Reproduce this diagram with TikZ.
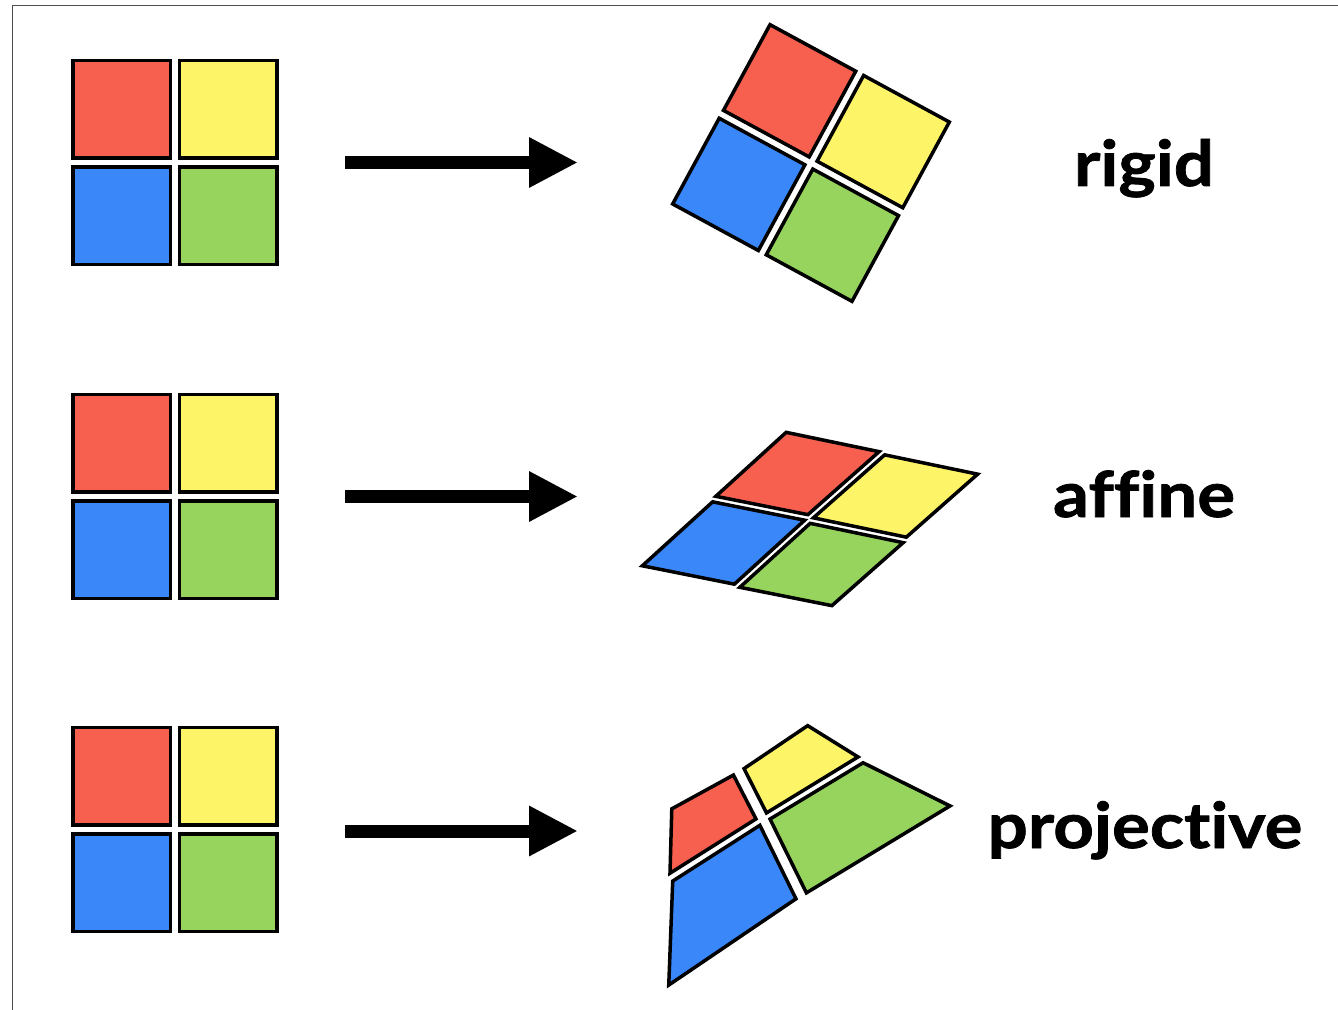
\documentclass[tikz,border=0pt]{standalone}
\usepackage{fontspec}
\setmainfont{Lato}[Ligatures=NoCommon, BoldFeatures={FakeBold=1.2, FakeStretch=1.12}]
\usetikzlibrary{arrows.meta,calc}

\definecolor{tilered}{HTML}{F75F4F}
\definecolor{tileyellow}{HTML}{FEF468}
\definecolor{tileblue}{HTML}{3987F9}
\definecolor{tilegreen}{HTML}{97D45E}

% one cell, its corners pulled in towards its middle by \cellgap
\newcommand{\colortile}[5]{%
  \coordinate (m) at ($0.25*(#2)+0.25*(#3)+0.25*(#4)+0.25*(#5)$);
  \draw[cell, fill=#1] ($(#2)!\cellgap!(m)$) -- ($(#3)!\cellgap!(m)$)
    -- ($(#4)!\cellgap!(m)$) -- ($(#5)!\cellgap!(m)$) -- cycle;}

% the four cells of the 3x3 point lattice #1
\newcommand{\tilegrid}[1]{%
  \colortile{tilered}{#1-11}{#1-12}{#1-22}{#1-21}
  \colortile{tileyellow}{#1-12}{#1-13}{#1-23}{#1-22}
  \colortile{tileblue}{#1-21}{#1-22}{#1-32}{#1-31}
  \colortile{tilegreen}{#1-22}{#1-23}{#1-33}{#1-32}}

% square lattice round the origin of the current scope
\newcommand{\squarelattice}[1]{%
  \foreach \i/\y in {1/-1,2/0,3/1}
    \foreach \j/\x in {1/-1,2/0,3/1}
      \coordinate (#1-\i\j) at (\x*106.5,\y*106.5);}

\begin{document}
\begin{tikzpicture}[
  x=0.25mm, y=-0.25mm,
  cell/.style={draw=black, line width=0.875mm, line join=miter},
  bigarrow/.style={-{Triangle[length=12.25mm,width=11.75mm]}, line width=3.25mm},
  kind/.style={anchor=base, font=\fontsize{45}{52}\selectfont\bfseries},
  frameline/.style={draw=black!70, line width=0.375mm}
]
  \useasboundingbox (0,0) rectangle (1338,1010);
  \draw[frameline] (12.5,1010) -- (12.5,5.5) -- (1338,5.5);

  \def\cellgap{4.5pt}
  % the untouched grids on the left
  \foreach \r/\yc in {1/162.5,2/496.5,3/829.5} {
    \begin{scope}[shift={(175,\yc)}]
      \squarelattice{s\r}
    \end{scope}
    \tilegrid{s\r}
  }

  % rigid
  \begin{scope}[shift={(811,163)}, rotate=-28.5]
    \squarelattice{r}
  \end{scope}
  \tilegrid{r}

  % affine
  \coordinate (a-11) at (785,428);
  \coordinate (a-13) at (982,473);
  \coordinate (a-31) at (638,567);
  \coordinate (a-33) at (833,610);
  \coordinate (a-12) at ($(a-11)!0.5!(a-13)$);
  \coordinate (a-32) at ($(a-31)!0.5!(a-33)$);
  \coordinate (a-21) at ($(a-11)!0.5!(a-31)$);
  \coordinate (a-23) at ($(a-13)!0.5!(a-33)$);
  \coordinate (a-22) at ($(a-11)!0.5!(a-33)$);
  \def\cellgap{3.2pt}
  \tilegrid{a}

  % projective
  \coordinate (p-11) at (665,807);
  \coordinate (p-12) at (737,769);
  \coordinate (p-13) at (810,719);
  \coordinate (p-21) at (666,879);
  \coordinate (p-22) at (763,819);
  \coordinate (p-23) at (865,756);
  \coordinate (p-31) at (665,991);
  \coordinate (p-32) at (803,899);
  \coordinate (p-33) at (957,805);
  \def\cellgap{5pt}
  \tilegrid{p}

  % arrows
  \foreach \r/\yc in {1/162.5,2/496.5,3/831} {
    \coordinate (from\r) at (345,\yc);
    \coordinate (to\r) at (578,\yc);
    \draw[bigarrow] (from\r) -- (to\r);
  }

  \node[kind] (rigid) at (1144,186) {rigid};
  \node[kind] (affine) at (1144,517) {affine};
  \node[kind] (projective) at (1145,848) {projective};
\end{tikzpicture}
\end{document}
